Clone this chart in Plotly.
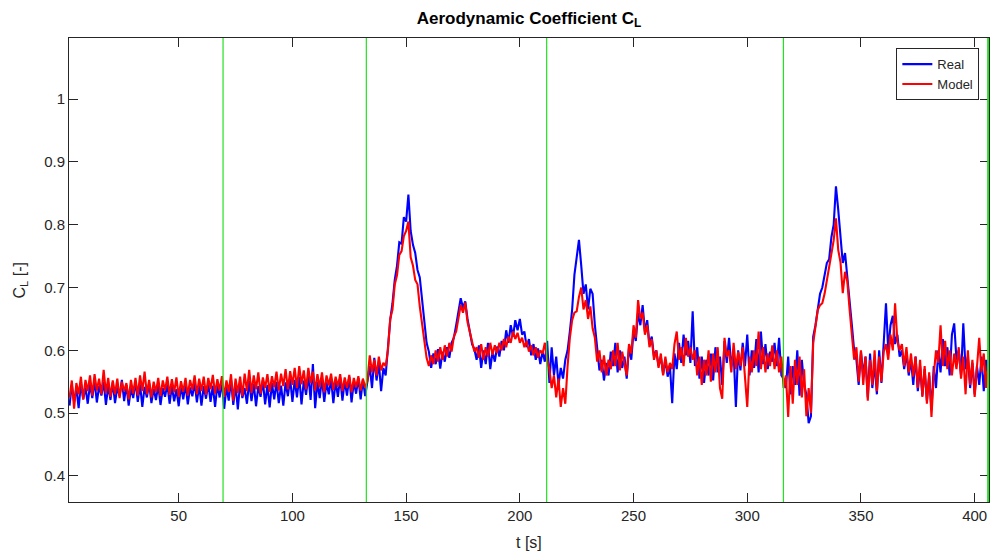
import plotly.graph_objects as go

# Time axis: one sample per second starting at t = 2 s
t_start = 2.0
t_step = 1.0

real = [
    0.512, 0.545, 0.518, 0.540, 0.508, 0.548, 0.522, 0.541, 0.515, 0.546,
    0.524, 0.552, 0.517, 0.543, 0.528, 0.550, 0.513, 0.544, 0.521, 0.549,
    0.516, 0.541, 0.527, 0.553, 0.519, 0.545, 0.512, 0.540, 0.524, 0.551,
    0.518, 0.546, 0.510, 0.542, 0.525, 0.548, 0.516, 0.539, 0.521, 0.545,
    0.513, 0.540, 0.526, 0.547, 0.515, 0.543, 0.519, 0.538, 0.511, 0.544,
    0.522, 0.546, 0.514, 0.541, 0.527, 0.549, 0.517, 0.545, 0.512, 0.543,
    0.523, 0.548, 0.518, 0.544, 0.510, 0.546, 0.525, 0.550, 0.507, 0.542,
    0.520, 0.553, 0.513, 0.545, 0.506, 0.548, 0.524, 0.540, 0.515, 0.551,
    0.519, 0.547, 0.511, 0.543, 0.526, 0.552, 0.514, 0.545, 0.509, 0.548,
    0.522, 0.550, 0.516, 0.544, 0.512, 0.549, 0.527, 0.555, 0.518, 0.553,
    0.525, 0.558, 0.514, 0.552, 0.529, 0.561, 0.521, 0.578, 0.508, 0.550,
    0.524, 0.556, 0.518, 0.549, 0.530, 0.555, 0.516, 0.551, 0.526, 0.557,
    0.520, 0.552, 0.528, 0.558, 0.517, 0.550, 0.531, 0.556, 0.522, 0.553,
    0.527, 0.548, 0.575, 0.540, 0.588, 0.552, 0.580, 0.535, 0.572, 0.560,
    0.605, 0.648, 0.675, 0.712, 0.735, 0.772, 0.770, 0.812, 0.805, 0.848,
    0.790, 0.768, 0.755, 0.728, 0.716, 0.680, 0.650, 0.612, 0.598, 0.572,
    0.595, 0.578, 0.602, 0.571, 0.598, 0.582, 0.605, 0.588, 0.612, 0.620,
    0.640, 0.662, 0.683, 0.668, 0.678, 0.650, 0.632, 0.610, 0.602, 0.585,
    0.608, 0.572, 0.600, 0.578, 0.612, 0.570, 0.598, 0.582, 0.606, 0.590,
    0.615, 0.600, 0.632, 0.612, 0.640, 0.622, 0.648, 0.632, 0.650, 0.625,
    0.630, 0.605, 0.618, 0.592, 0.610, 0.585, 0.603, 0.578, 0.598, 0.582,
    0.615, 0.548, 0.605, 0.560, 0.590, 0.545, 0.572, 0.555, 0.585, 0.600,
    0.630, 0.665, 0.720, 0.745, 0.776, 0.735, 0.690, 0.705, 0.665, 0.698,
    0.690, 0.640, 0.600, 0.568, 0.585, 0.552, 0.580, 0.560, 0.598, 0.575,
    0.612, 0.565, 0.600, 0.572, 0.590, 0.555, 0.605, 0.585, 0.630, 0.615,
    0.660, 0.640, 0.672, 0.630, 0.648, 0.610, 0.622, 0.590, 0.600, 0.575,
    0.590, 0.562, 0.585, 0.558, 0.575, 0.516, 0.595, 0.570, 0.612, 0.580,
    0.625, 0.592, 0.615, 0.580, 0.662, 0.575, 0.605, 0.555, 0.590, 0.548,
    0.585, 0.560, 0.595, 0.552, 0.605, 0.565, 0.590, 0.545, 0.615, 0.580,
    0.620, 0.575, 0.598, 0.510, 0.600, 0.568, 0.612, 0.575, 0.625, 0.560,
    0.600, 0.572, 0.618, 0.565, 0.630, 0.578, 0.610, 0.570, 0.598, 0.582,
    0.612, 0.575, 0.620, 0.560, 0.555, 0.540, 0.590, 0.530, 0.575, 0.545,
    0.600, 0.528, 0.585, 0.545, 0.530, 0.484, 0.495, 0.622, 0.640, 0.665,
    0.690, 0.700, 0.720, 0.739, 0.745, 0.780, 0.800, 0.861, 0.824, 0.780,
    0.739, 0.755, 0.720, 0.685, 0.640, 0.600, 0.585, 0.545, 0.598, 0.560,
    0.590, 0.525, 0.595, 0.540, 0.580, 0.530, 0.600, 0.548, 0.610, 0.675,
    0.600, 0.640, 0.655, 0.610, 0.625, 0.590, 0.600, 0.570, 0.595, 0.560,
    0.585, 0.545, 0.590, 0.535, 0.575, 0.528, 0.570, 0.520, 0.560, 0.505,
    0.575, 0.540, 0.600, 0.565, 0.618, 0.575, 0.605, 0.560, 0.625, 0.643,
    0.585, 0.600, 0.560, 0.643, 0.570, 0.590, 0.540, 0.580, 0.530, 0.575,
    0.545, 0.590, 0.535, 0.585, 0.555,
]

model = [
    0.525, 0.552, 0.507, 0.548, 0.530, 0.558, 0.522, 0.553, 0.535, 0.560,
    0.528, 0.562, 0.536, 0.555, 0.530, 0.569, 0.532, 0.556, 0.526, 0.552,
    0.530, 0.555, 0.524, 0.550, 0.535, 0.548, 0.522, 0.553, 0.531, 0.556,
    0.528, 0.560, 0.535, 0.566, 0.530, 0.553, 0.525, 0.550, 0.533, 0.556,
    0.527, 0.552, 0.536, 0.558, 0.529, 0.554, 0.533, 0.557, 0.526, 0.551,
    0.534, 0.556, 0.528, 0.553, 0.537, 0.560, 0.530, 0.555, 0.535, 0.558,
    0.529, 0.556, 0.538, 0.561, 0.531, 0.554, 0.536, 0.559, 0.526, 0.552,
    0.534, 0.562, 0.520, 0.555, 0.532, 0.558, 0.527, 0.563, 0.535, 0.569,
    0.532, 0.560, 0.538, 0.565, 0.531, 0.557, 0.540, 0.562, 0.534, 0.559,
    0.541, 0.566, 0.536, 0.563, 0.543, 0.570, 0.538, 0.567, 0.545, 0.572,
    0.540, 0.575, 0.546, 0.568, 0.538, 0.572, 0.548, 0.566, 0.536, 0.562,
    0.541, 0.565, 0.533, 0.560, 0.544, 0.563, 0.537, 0.558, 0.542, 0.562,
    0.535, 0.557, 0.540, 0.561, 0.533, 0.556, 0.541, 0.559, 0.536, 0.555,
    0.540, 0.552, 0.592, 0.565, 0.585, 0.560, 0.590, 0.568, 0.580, 0.575,
    0.600, 0.650, 0.665, 0.705, 0.720, 0.752, 0.758, 0.782, 0.790, 0.805,
    0.748, 0.735, 0.712, 0.705, 0.670, 0.640, 0.612, 0.588, 0.575, 0.592,
    0.578, 0.600, 0.582, 0.605, 0.585, 0.608, 0.590, 0.612, 0.598, 0.622,
    0.630, 0.655, 0.672, 0.660, 0.676, 0.645, 0.628, 0.612, 0.598, 0.605,
    0.588, 0.610, 0.585, 0.605, 0.590, 0.612, 0.593, 0.608, 0.596, 0.612,
    0.600, 0.618, 0.605, 0.622, 0.612, 0.630, 0.618, 0.628, 0.612, 0.620,
    0.605, 0.615, 0.598, 0.608, 0.592, 0.605, 0.588, 0.600, 0.595, 0.612,
    0.585, 0.570, 0.540, 0.560, 0.525, 0.555, 0.510, 0.540, 0.515, 0.575,
    0.620, 0.648, 0.660, 0.662, 0.685, 0.700, 0.665, 0.680, 0.650, 0.670,
    0.635, 0.620, 0.582, 0.600, 0.565, 0.592, 0.560, 0.585, 0.570, 0.600,
    0.575, 0.612, 0.568, 0.598, 0.578, 0.560, 0.610, 0.595, 0.640, 0.620,
    0.680, 0.650, 0.660, 0.625, 0.640, 0.605, 0.618, 0.585, 0.600, 0.572,
    0.595, 0.560, 0.590, 0.565, 0.580, 0.570, 0.610, 0.630, 0.585, 0.605,
    0.575, 0.620, 0.590, 0.605, 0.585, 0.600, 0.560, 0.590, 0.545, 0.585,
    0.560, 0.600, 0.550, 0.595, 0.565, 0.605, 0.540, 0.523, 0.620, 0.590,
    0.600, 0.565, 0.612, 0.570, 0.598, 0.575, 0.605, 0.560, 0.510, 0.590,
    0.565, 0.600, 0.575, 0.630, 0.570, 0.605, 0.565, 0.595, 0.575, 0.608,
    0.570, 0.600, 0.565, 0.590, 0.540, 0.560, 0.494, 0.575, 0.515, 0.585,
    0.545, 0.590, 0.525, 0.570, 0.495, 0.540, 0.500, 0.612, 0.640, 0.664,
    0.672, 0.675, 0.690, 0.712, 0.730, 0.750, 0.775, 0.810, 0.760, 0.740,
    0.691, 0.725, 0.710, 0.665, 0.630, 0.585, 0.605, 0.550, 0.600, 0.545,
    0.590, 0.520, 0.585, 0.545, 0.600, 0.535, 0.590, 0.550, 0.598, 0.610,
    0.585, 0.625, 0.600, 0.675, 0.615, 0.600, 0.610, 0.575, 0.605, 0.565,
    0.595, 0.558, 0.590, 0.540, 0.585, 0.526, 0.575, 0.515, 0.565, 0.494,
    0.560, 0.600, 0.580, 0.640, 0.575, 0.615, 0.570, 0.600, 0.560, 0.595,
    0.570, 0.605, 0.555, 0.590, 0.530, 0.600, 0.545, 0.585, 0.526, 0.570,
    0.620, 0.565, 0.595, 0.540, 0.585,
]

# Phase boundaries (vertical green markers), in seconds
phase_lines = [69.5, 132.5, 211.8, 315.9, 406.0]

x_ticks = [50, 100, 150, 200, 250, 300, 350, 400]
y_ticks = [0.4, 0.5, 0.6, 0.7, 0.8, 0.9, 1.0]
y_tick_labels = ["0.4", "0.5", "0.6", "0.7", "0.8", "0.9", "1"]

t_real = [t_start + i * t_step for i in range(len(real))]
t_model = [t_start + i * t_step for i in range(len(model))]

AX = "#262626"
FONT = "Liberation Sans, Arial, sans-serif"

fig = go.Figure()
fig.add_trace(go.Scatter(x=t_real, y=real, mode="lines", name="Real",
                         line=dict(color="#0000ff", width=2.1)))
fig.add_trace(go.Scatter(x=t_model, y=model, mode="lines", name="Model",
                         line=dict(color="#ff0000", width=2.1)))

for i, xv in enumerate(phase_lines):
    fig.add_shape(type="line", xref="x", yref="paper", x0=xv, x1=xv, y0=0, y1=1,
                  line=dict(color="#22e022", width=2.4 if i == len(phase_lines) - 1 else 1.2),
                  layer="above")

# Axis titles as annotations for exact placement
fig.add_annotation(text="t [s]", xref="paper", yref="paper", x=0.5, y=-0.088,
                   xanchor="center", yanchor="middle", showarrow=False,
                   font=dict(size=16, color=AX, family=FONT))
fig.add_annotation(text="C<sub>L</sub> [-]", xref="paper", yref="paper", x=-0.053, y=0.478,
                   xanchor="center", yanchor="middle", showarrow=False, textangle=-90,
                   font=dict(size=16, color=AX, family=FONT))

fig.update_layout(
    width=990, height=558,
    margin=dict(l=69, r=1, t=38, b=56, autoexpand=False),
    paper_bgcolor="white", plot_bgcolor="white",
    font=dict(family=FONT, color=AX, size=15),
    title=dict(text="<b>Aerodynamic Coefficient C<sub>L</sub></b>",
               x=0.5, xref="paper", xanchor="center", y=0.968, yref="container",
               yanchor="middle",
               font=dict(size=17, color="#000000", family=FONT)),
    showlegend=True,
    legend=dict(x=0.9895, y=0.978, xanchor="right", yanchor="top",
                bgcolor="white", bordercolor=AX, borderwidth=1,
                font=dict(size=13, color=AX, family=FONT),
                tracegroupgap=0, itemwidth=30),
    xaxis=dict(range=[1.76, 406.3], tickvals=x_ticks, ticks="inside", ticklen=9,
               tickcolor=AX, showline=True, linecolor=AX, linewidth=1, mirror="ticks",
               showgrid=False, zeroline=False, automargin=False,
               tickfont=dict(size=15, color=AX)),
    yaxis=dict(range=[0.3586, 1.0972], tickvals=y_ticks, ticktext=y_tick_labels,
               ticks="inside", ticklen=9, tickcolor=AX, showline=True, linecolor=AX,
               linewidth=1, mirror="ticks", showgrid=False, zeroline=False,
               automargin=False, tickfont=dict(size=15, color=AX)),
)

fig.write_html("out.html", config={"displayModeBar": False},
               post_script="document.body.style.margin='0';document.body.style.overflow='hidden';")
